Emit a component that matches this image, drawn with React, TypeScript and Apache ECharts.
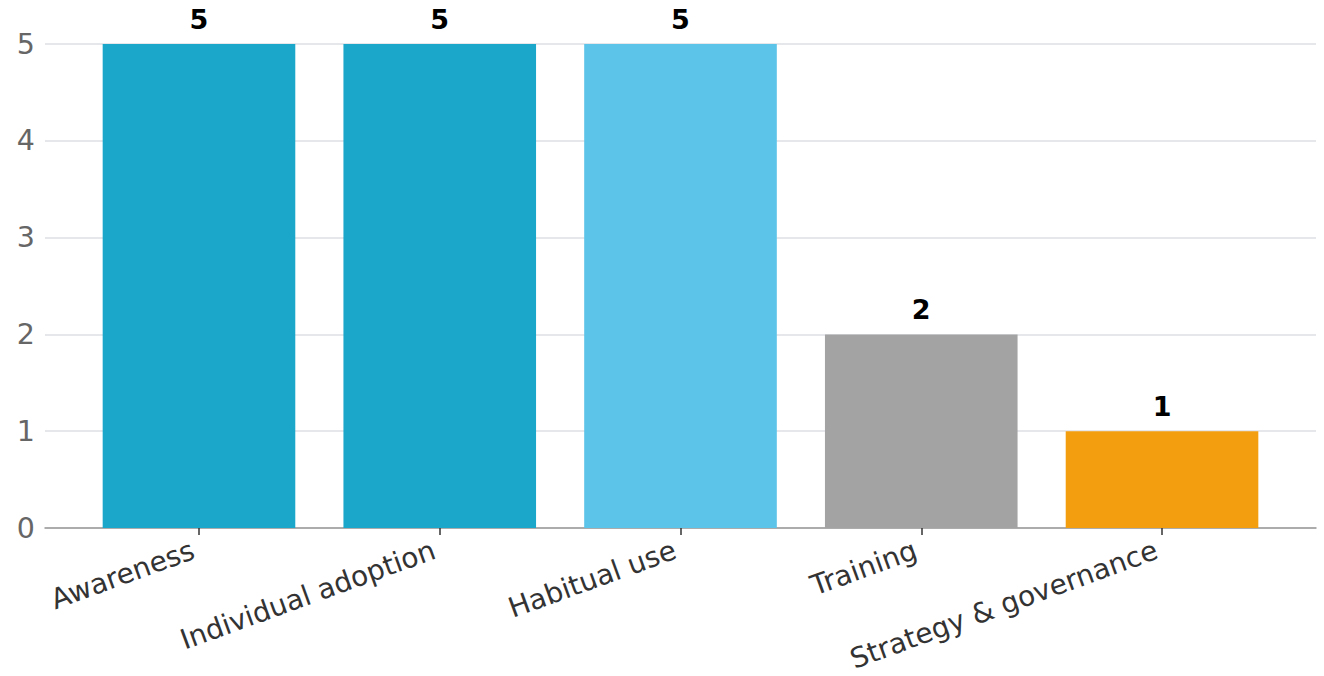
import React, { useEffect, useRef } from "react";
import * as echarts from "echarts";

const categories = ["Awareness", "Individual adoption", "Habitual use", "Training", "Strategy & governance"];
const values = [5, 5, 5, 2, 1];
const colors = ["#1BA7CA", "#1BA7CA", "#5CC4E8", "#A3A3A3", "#F39E0E"];

const FONT = "DejaVu Sans";

export default function App() {
  const ref = useRef<HTMLDivElement>(null);
  useEffect(() => {
    if (!ref.current) return;
    const chart = echarts.init(ref.current, undefined, { renderer: "svg" });
    const top = 44;
    const bottom = 676 - 528;
    chart.setOption({
      animation: false,
      backgroundColor: "#ffffff",
      textStyle: { fontFamily: FONT },
      grid: [
        { left: 45, right: 8, top, bottom, containLabel: false, outerBoundsMode: "none" },
        { left: 78.6, right: 41.6, top, bottom, containLabel: false, outerBoundsMode: "none" },
      ],
      xAxis: [
        {
          type: "value",
          gridIndex: 0,
          min: -0.64,
          max: 4.64,
          axisLine: { show: true, onZero: false, lineStyle: { color: "#999999", width: 1.5 } },
          axisTick: { show: false },
          axisLabel: { show: false },
          splitLine: { show: false },
        },
        {
          type: "category",
          gridIndex: 1,
          data: categories,
          axisLine: { show: false },
          axisTick: { show: true, alignWithLabel: true, length: 7, lineStyle: { color: "#333333", width: 1.5 } },
          axisLabel: {
            rotate: 20,
            interval: 0,
            color: "#333333",
            fontSize: 28,
            fontFamily: FONT,
            margin: 19,
            padding: [0, 6, 0, 0],
          },
        },
      ],
      yAxis: [
        {
          type: "value",
          gridIndex: 0,
          min: 0,
          max: 5,
          interval: 1,
          axisLine: { show: false },
          axisTick: { show: false },
          axisLabel: { color: "#666666", fontSize: 28.5, fontFamily: FONT, margin: 10 },
          splitLine: { show: true, lineStyle: { color: "#E5E7EB", width: 2 } },
        },
        {
          type: "value",
          gridIndex: 1,
          min: 0,
          max: 5,
          interval: 1,
          show: false,
          splitLine: { show: false },
        },
      ],
      series: [
        {
          type: "bar",
          xAxisIndex: 1,
          yAxisIndex: 1,
          barWidth: "80%",
          data: values.map((v, i) => ({ value: v, itemStyle: { color: colors[i] } })),
          label: {
            show: true,
            position: "top",
            distance: 11,
            color: "#000000",
            fontWeight: "bold",
            fontSize: 27,
            fontFamily: FONT,
          },
        },
      ],
    });
    return () => chart.dispose();
  }, []);
  return (
    <div
      ref={ref}
      style={{ position: "fixed", left: 0, top: 0, width: 1324, height: 676 }}
    />
  );
}
